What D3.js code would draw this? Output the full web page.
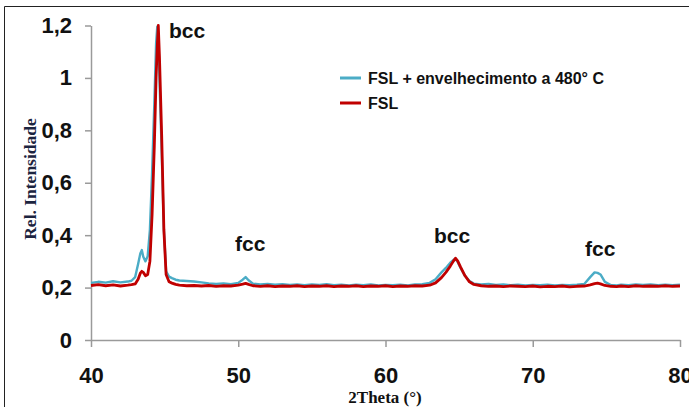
<!DOCTYPE html>
<html><head><meta charset="utf-8">
<script src="https://cdn.jsdelivr.net/npm/d3@7"></script>
<style>body{margin:0;background:#fff}svg{display:block}</style>
</head><body>
<script>
const twoTheta = [40.0,40.5,41.0,41.5,42.0,42.5,42.75,43.0,43.2,43.35,43.45,43.55,43.7,43.85,44.0,44.15,44.3,44.42,44.5,44.57,44.65,44.8,44.95,45.1,45.3,45.5,45.75,46.0,46.5,47.0,47.5,48.0,48.5,49.0,49.5,50.0,50.3,50.5,50.7,51.0,51.5,52.0,52.5,53.0,53.5,54.0,54.5,55.0,55.5,56.0,56.5,57.0,57.5,58.0,58.5,59.0,59.5,60.0,60.5,61.0,61.5,62.0,62.5,63.0,63.4,63.8,64.1,64.4,64.6,64.75,64.9,65.1,65.4,65.7,66.0,66.5,67.0,67.5,68.0,68.5,69.0,69.5,70.0,70.5,71.0,71.5,72.0,72.5,73.0,73.5,73.9,74.2,74.4,74.6,74.9,75.3,75.7,76.0,76.5,77.0,77.5,78.0,78.5,79.0,79.5,80.0];
const agedFSL = [0.218,0.222,0.219,0.224,0.220,0.223,0.226,0.240,0.290,0.330,0.343,0.318,0.300,0.320,0.420,0.640,0.900,1.130,1.195,1.170,1.000,0.720,0.420,0.262,0.242,0.236,0.230,0.227,0.225,0.223,0.220,0.216,0.214,0.216,0.213,0.218,0.230,0.240,0.228,0.215,0.212,0.214,0.211,0.213,0.210,0.212,0.209,0.212,0.210,0.213,0.209,0.211,0.208,0.211,0.209,0.212,0.208,0.210,0.209,0.211,0.208,0.212,0.213,0.218,0.232,0.258,0.275,0.295,0.305,0.310,0.298,0.275,0.245,0.225,0.215,0.212,0.214,0.210,0.212,0.209,0.211,0.208,0.210,0.209,0.211,0.208,0.210,0.209,0.211,0.214,0.240,0.258,0.256,0.250,0.222,0.210,0.208,0.211,0.209,0.212,0.210,0.212,0.209,0.211,0.209,0.211];
const fsl = [0.208,0.211,0.207,0.210,0.206,0.209,0.211,0.214,0.232,0.255,0.262,0.258,0.245,0.250,0.300,0.480,0.740,1.000,1.120,1.200,1.080,0.780,0.420,0.250,0.222,0.217,0.212,0.209,0.207,0.208,0.206,0.208,0.205,0.207,0.206,0.209,0.213,0.216,0.212,0.207,0.205,0.207,0.204,0.206,0.205,0.207,0.204,0.206,0.205,0.207,0.204,0.206,0.205,0.207,0.204,0.206,0.205,0.207,0.204,0.206,0.205,0.207,0.206,0.209,0.218,0.238,0.258,0.282,0.300,0.312,0.302,0.278,0.245,0.222,0.212,0.207,0.205,0.206,0.204,0.206,0.205,0.204,0.206,0.203,0.205,0.204,0.206,0.203,0.205,0.206,0.210,0.215,0.217,0.214,0.208,0.205,0.204,0.206,0.204,0.207,0.205,0.206,0.205,0.207,0.205,0.206];
const seriesNames = ["FSL + envelhecimento a 480° C", "FSL"];
const seriesColors = ["#4BACC6", "#C00000"];
const xTicks = [40,50,60,70,80];
const yTicks = [0,0.2,0.4,0.6,0.8,1,1.2];
const yTickLabels = ["0","0,2","0,4","0,6","0,8","1","1,2"];
const peakLabels = ["bcc","fcc","bcc","fcc"];

const W = 689, H = 407;
const svg = d3.select("body").append("svg").attr("width", W).attr("height", H);
svg.append("rect").attr("width", W).attr("height", H).attr("fill", "#fff");
svg.append("path").attr("d", `M4.5,${H} L4.5,6.5 L${W},6.5`).attr("fill","none").attr("stroke","#222").attr("stroke-width",1);

const x = d3.scaleLinear().domain([40,80]).range([91,680]);
const y = d3.scaleLinear().domain([0,1.2]).range([340,25.5]);

const axisColor = "#9a9a9a";
const font = "'Liberation Sans', Arial, sans-serif";
const serif = "'Liberation Serif', 'Times New Roman', serif";

const gx = svg.append("g").attr("transform","translate(0,340)")
  .call(d3.axisBottom(x).tickValues(xTicks).tickFormat(d3.format("d")).tickSize(7).tickSizeOuter(0).tickPadding(20));
const gy = svg.append("g").attr("transform","translate(91,0)")
  .call(d3.axisLeft(y).tickValues(yTicks).tickFormat((d,i)=>yTickLabels[i]).tickSize(6).tickSizeOuter(0).tickPadding(13));
[gx,gy].forEach(g=>{
  g.select(".domain").attr("stroke",axisColor).attr("stroke-width",1.5);
  g.selectAll(".tick line").attr("stroke",axisColor).attr("stroke-width",1.5);
  g.selectAll(".tick text").attr("fill","#111").attr("font-family",font).attr("font-weight","bold").attr("font-size",22);
});

const line = d3.line().x((d,i)=>x(twoTheta[i])).y(d=>y(d)).curve(d3.curveLinear);
svg.append("path").datum(agedFSL).attr("d", line).attr("fill","none").attr("stroke",seriesColors[0]).attr("stroke-width",2.4).attr("stroke-linejoin","round");
svg.append("path").datum(fsl).attr("d", line).attr("fill","none").attr("stroke",seriesColors[1]).attr("stroke-width",2.8).attr("stroke-linejoin","round");

const annY = [38, 251, 243, 256];
const annX = [169, 235, 434, 585];
peakLabels.forEach((t,i)=>{
  svg.append("text").attr("x", annX[i]).attr("y", annY[i]).text(t)
    .attr("font-family",font).attr("font-weight","bold").attr("font-size",21).attr("fill","#111");
});

seriesNames.forEach((n,i)=>{
  const ly = 78 + i*25;
  svg.append("line").attr("x1",340).attr("x2",361).attr("y1",ly).attr("y2",ly)
    .attr("stroke",seriesColors[i]).attr("stroke-width",3);
  svg.append("text").attr("x",368).attr("y",ly+5.5).text(n)
    .attr("font-family",font).attr("font-weight","bold").attr("font-size",16).attr("fill","#111");
});

svg.append("text").attr("x",385).attr("y",403).attr("text-anchor","middle").text("2Theta (°)")
  .attr("font-family",serif).attr("font-weight","bold").attr("font-size",17).attr("fill","#111");
svg.append("text").attr("transform","translate(36,179) rotate(-90)").attr("text-anchor","middle").text("Rel. Intensidade")
  .attr("font-family",serif).attr("font-weight","bold").attr("font-size",17.5).attr("fill","#1c2440");
</script>
</body></html>
